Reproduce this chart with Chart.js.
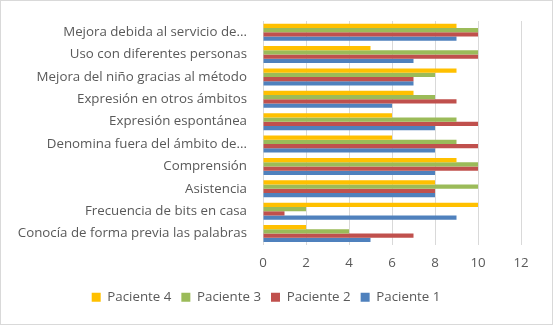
<!DOCTYPE html>
<html lang="es">
<head>
<meta charset="UTF-8">
<title>Pacientes</title>
<script src="https://cdn.jsdelivr.net/npm/chart.js"></script>
<style>
  html, body { margin: 0; padding: 0; background: #fff; }
  #wrap { width: 553px; height: 325px; box-sizing: border-box; border: 1px solid #d9d9d9; }
</style>
</head>
<body>
<div id="wrap"><canvas id="chart"></canvas></div>
<script>
// categorías de arriba a abajo, tal como se ven
const categories = [
  "Mejora debida al servicio de...",
  "Uso con diferentes personas",
  "Mejora del niño gracias al método",
  "Expresión en otros ámbitos",
  "Expresión espontánea",
  "Denomina fuera del ámbito de...",
  "Comprensión",
  "Asistencia",
  "Frecuencia de bits en casa",
  "Conocía de forma previa las palabras"
];
const paciente4 = [9, 5, 9, 7, 6, 6, 9, 8, 10, 2];
const paciente3 = [10, 10, 8, 8, 9, 9, 10, 10, 2, 4];
const paciente2 = [10, 10, 7, 9, 10, 10, 10, 8, 1, 7];
const paciente1 = [9, 7, 7, 6, 8, 8, 8, 8, 9, 5];
const xTicks = [0, 2, 4, 6, 8, 10, 12];

const font = { family: "'Open Sans', 'Noto Sans', sans-serif", size: 13.3 };

new Chart(document.getElementById("chart"), {
  type: "bar",
  data: {
    labels: categories,
    datasets: [
      { label: "Paciente 4", data: paciente4, backgroundColor: "#FFC000" },
      { label: "Paciente 3", data: paciente3, backgroundColor: "#9BBB59" },
      { label: "Paciente 2", data: paciente2, backgroundColor: "#C0504D" },
      { label: "Paciente 1", data: paciente1, backgroundColor: "#4F81BD" }
    ]
  },
  options: {
    indexAxis: "y",
    responsive: true,
    maintainAspectRatio: false,
    animation: false,
    datasets: { bar: { categoryPercentage: 0.76, barPercentage: 1.0 } },
    layout: { padding: { top: 20, right: 31, left: 10, bottom: 10 } },
    scales: {
      x: {
        min: 0, max: 12,
        afterBuildTicks: s => { s.ticks = xTicks.map(v => ({ value: v })); },
        grid: { color: "#d9d9d9", drawTicks: false },
        border: { display: false },
        ticks: { color: "#595959", font: font, padding: 10 }
      },
      y: {
        afterFit: s => { s.width = 252; },
        grid: { display: false },
        border: { color: "#d9d9d9" },
        ticks: { color: "#595959", font: font, padding: 8, autoSkip: false }
      }
    },
    plugins: {
      tooltip: { enabled: false },
      legend: {
        position: "bottom",
        labels: { color: "#595959", font: font, boxWidth: 9, boxHeight: 9, padding: 10 }
      }
    }
  }
});
</script>
</body>
</html>
